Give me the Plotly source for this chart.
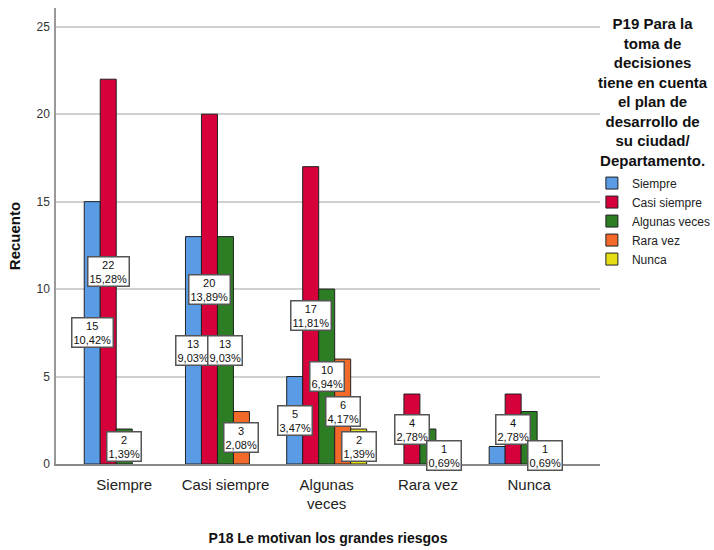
import plotly.graph_objects as go

categories = ["Siempre", "Casi siempre", "Algunas veces", "Rara vez", "Nunca"]
tick_labels = ["Siempre", "Casi siempre", "Algunas<br>veces", "Rara vez", "Nunca"]
series_names = ["Siempre", "Casi siempre", "Algunas veces", "Rara vez", "Nunca"]
series_colors = ["#5A9BE6", "#D6003A", "#2C7D24", "#F2692A", "#E6DE14"]
legend_title = ("P19 Para la<br>toma de<br>decisiones<br>tiene en cuenta<br>el plan de<br>"
                "desarrollo de<br>su ciudad/<br>Departamento.")

# counts per series (P19) for each category of P18 (None = empty cell)
siempre = [15, 13, 5, None, 1]
casi_siempre = [22, 20, 17, 4, 4]
algunas_veces = [2, 13, 10, 2, 3]
rara_vez = [None, 3, 6, 1, 1]
nunca = [None, None, 2, None, None]
series_values = [siempre, casi_siempre, algunas_veces, rara_vez, nunca]

# labels that the original chart leaves out: (series index, category index)
hidden_labels = [(2, 3), (0, 4), (2, 4)]

total = sum(v for s in series_values for v in s if v)

bargap = 0.21
n_series = len(series_values)

fig = go.Figure()
for name, color, vals in zip(series_names, series_colors, series_values):
    fig.add_trace(go.Bar(
        name=name, x=categories, y=vals,
        marker=dict(color=color, line=dict(color="#222222", width=1)),
    ))

annotations = []
for i, vals in enumerate(series_values):
    for j, v in enumerate(vals):
        if not v or (i, j) in hidden_labels:
            continue
        xpos = j + (-0.5 + (i + 0.5) / n_series) * (1 - bargap)
        pct = f"{v / total * 100:.2f}".replace(".", ",")
        annotations.append(dict(
            x=xpos, y=v / 2, xref="x", yref="y",
            text=f"{v}<br>{pct}%", showarrow=False,
            font=dict(family="Liberation Sans, Arial", size=11, color="#111111"),
            bgcolor="white", bordercolor="#555555", borderwidth=1.5, borderpad=1,
        ))

# legend title, centred line by line
annotations.append(dict(
    x=1.0974, y=0.99, xref="paper", yref="paper", xanchor="center", yanchor="top",
    text=f"<b>{legend_title}</b>", showarrow=False, align="center",
    font=dict(family="Liberation Sans, Arial", size=15, color="#111111"),
))

fig.update_layout(
    width=714, height=550,
    margin=dict(l=56, r=114, t=8, b=86, autoexpand=False),
    paper_bgcolor="white", plot_bgcolor="white",
    barmode="group", bargap=bargap, bargroupgap=0,
    font=dict(family="Liberation Sans, Arial", color="#222222"),
    annotations=annotations,
    legend=dict(
        xref="container", x=0.829, xanchor="left",
        yref="container", y=0.6935, yanchor="top",
        bgcolor="rgba(0,0,0,0)",
        font=dict(size=12, color="#222222"),
        itemwidth=30, tracegroupgap=0,
    ),
    xaxis=dict(
        type="category", range=[-0.674, 4.70],
        tickvals=categories, ticktext=tick_labels,
        tickfont=dict(size=15, color="#222222"), ticklabelstandoff=6,
        showline=True, linecolor="#888888", linewidth=1.5,
        showgrid=False, ticks="",
        title=dict(text="<b>P18 Le motivan los grandes riesgos</b>",
                   font=dict(size=14, color="#111111"), standoff=22),
    ),
    yaxis=dict(
        range=[0, 26.07], tickvals=[0, 5, 10, 15, 20, 25],
        tickfont=dict(size=12, color="#333333"), ticklabelstandoff=2,
        showline=True, linecolor="#999999", linewidth=1.5,
        showgrid=True, gridcolor="#D0D0D0", gridwidth=1.5,
        zeroline=False, ticks="",
        title=dict(text="<b>Recuento</b>", font=dict(size=15, color="#111111"), standoff=12),
    ),
)

# remove the browser's default page margin so the figure fills the window exactly
fig.write_html("out.html", config={"displayModeBar": False},
               post_script="document.body.style.margin='0px';")
